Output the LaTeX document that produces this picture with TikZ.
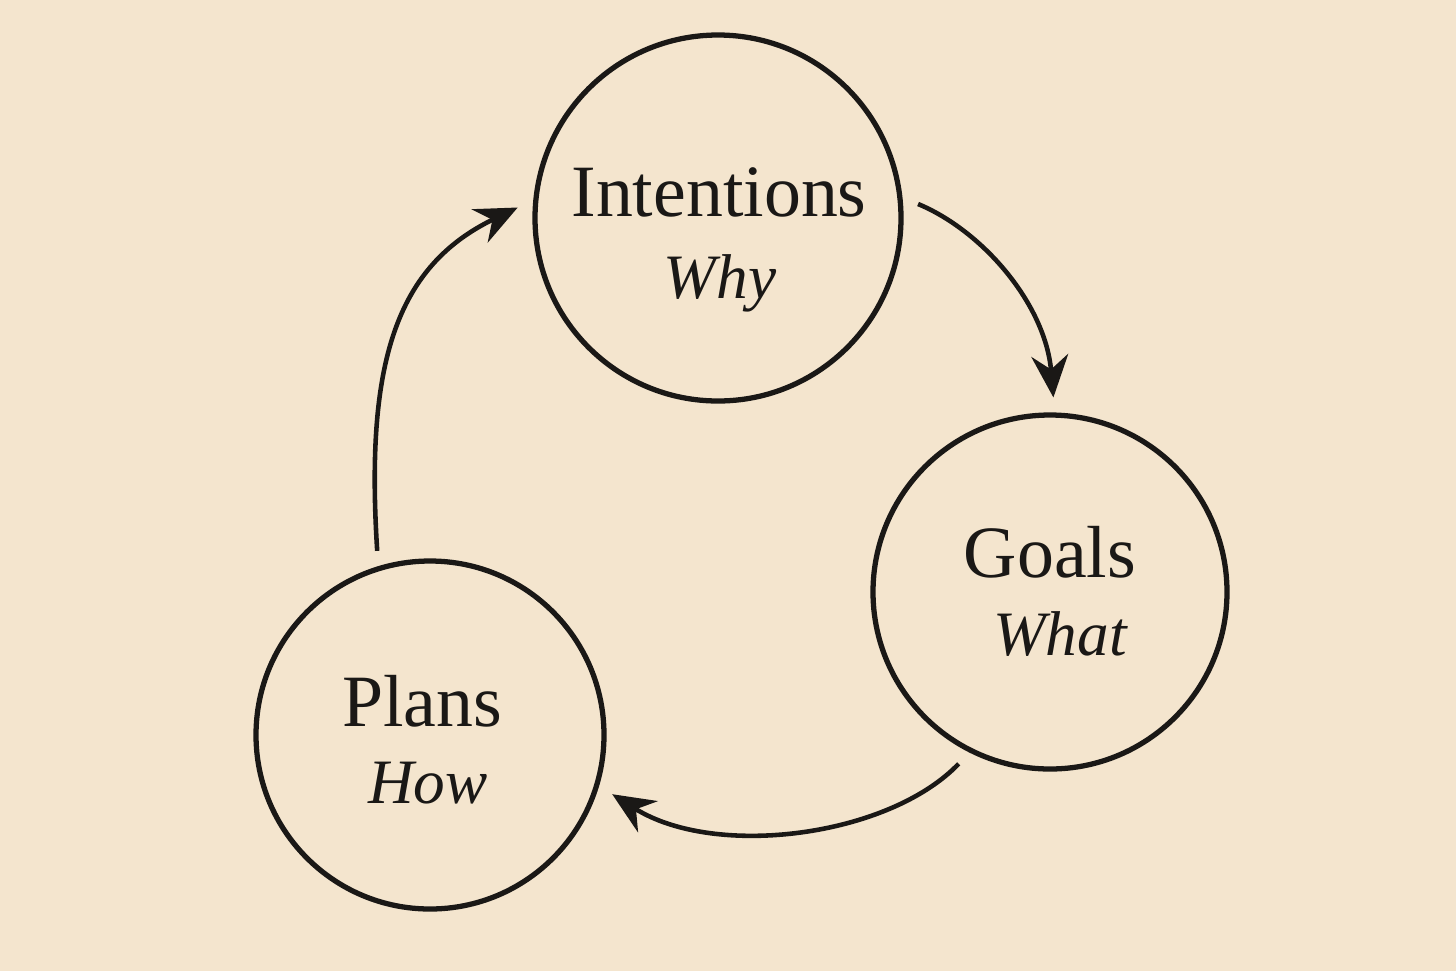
\documentclass[tikz,border=0pt]{standalone}
\usepackage{fontspec}
\setmainfont{Liberation Serif}
\usetikzlibrary{arrows.meta}
\definecolor{paper}{HTML}{F4E5CE}
\definecolor{ink}{HTML}{1A1816}
\begin{document}
\begin{tikzpicture}[x=0.02cm, y=-0.02cm,
  stage/.style={draw=ink, line width=3pt, circle, outer sep=10pt},
  arc/.style={draw=ink, line width=2.6pt, -{Stealth[length=24pt, width=21pt, inset=8pt]}},
  title/.style={anchor=base, text=ink, font=\fontsize{42}{48}\selectfont},
  ask/.style={anchor=base, text=ink, font=\fontsize{36}{42}\selectfont\itshape}]
  \fill[paper] (0,0) rectangle (1456,971);
  \useasboundingbox (0,0) rectangle (1456,971);
  % the three circles
  \node[stage, minimum size=366*0.02cm] (intentions) at (718,218) {};
  \node[stage, minimum size=354*0.02cm] (goals) at (1050,592) {};
  \node[stage, minimum size=348*0.02cm] (plans) at (430,735) {};
  % labels
  \node[title] (intentionsT) at (719,216) {Intentions};
  \node[ask] (intentionsQ) at (720,298) {Why};
  \node[title] (goalsT) at (1050,577) {Goals};
  \node[ask] (goalsQ) at (1060,655) {What};
  \node[title] (plansT) at (422,726) {Plans};
  \node[ask] (plansQ) at (428,803) {How};
  % the cycle
  \draw[arc] (plans.106) .. controls +(-12,-188) and +(-122,59) .. (intentions.177);
  \draw[arc] (intentions.4) .. controls +(65,27) and +(-8,-93) .. (goals.89);
  \draw[arc] (goals.242) .. controls +(-70,73) and +(103,65) .. (plans.342);
\end{tikzpicture}
\end{document}
